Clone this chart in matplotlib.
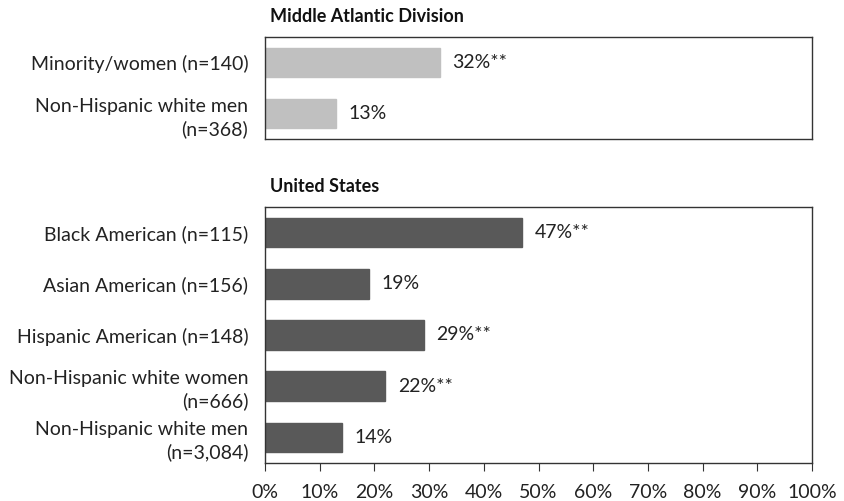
import matplotlib
matplotlib.use("Agg")
import matplotlib.pyplot as plt

plt.rcParams['font.family'] = ['Lato', 'DejaVu Sans']

mad_labels = ["Minority/women (n=140)", "Non-Hispanic white men\n(n=368)"]
mad_values = [32, 13]
mad_text = ["32%**", "13%"]

us_labels = ["Black American (n=115)", "Asian American (n=156)", "Hispanic American (n=148)",
             "Non-Hispanic white women\n(n=666)", "Non-Hispanic white men\n(n=3,084)"]
us_values = [47, 19, 29, 22, 14]
us_text = ["47%**", "19%", "29%**", "22%**", "14%"]

xticks = [0, 10, 20, 30, 40, 50, 60, 70, 80, 90, 100]
xticklabels = ["0%", "10%", "20%", "30%", "40%", "50%", "60%", "70%", "80%", "90%", "100%"]

W, H = 844, 501
fig = plt.figure(figsize=(W/100, H/100), dpi=100)

def ax_rect(x0, y0, x1, y1):
    return [x0/W, 1 - y1/H, (x1-x0)/W, (y1-y0)/H]

ax1 = fig.add_axes(ax_rect(265, 37, 812, 139))
ax2 = fig.add_axes(ax_rect(265, 207, 812, 463))

fs = 14
for ax, labels, vals, texts, col in [
    (ax1, mad_labels, mad_values, mad_text, "#C0C0C0"),
    (ax2, us_labels, us_values, us_text, "#595959"),
]:
    y = list(range(len(vals)))
    ax.barh(y, vals, height=0.58, color=col, edgecolor=col)
    ax.set_xlim(0, 100)
    ax.set_ylim(len(vals) - 0.5, -0.5)
    ax.set_yticks(y)
    ax.set_yticklabels(labels, fontsize=fs, color="#222222", linespacing=1.35)
    ax.tick_params(axis='y', length=0, pad=12)
    for yi, v, t in zip(y, vals, texts):
        ax.annotate(t, (v, yi), xytext=(9, 0), textcoords="offset points",
                    va="center", ha="left", fontsize=fs, color="#222222")
    for s in ax.spines.values():
        s.set_color("#333333")
        s.set_linewidth(1.0)

ax1.set_xticks([])
ax2.set_xticks(xticks)
ax2.set_xticklabels(xticklabels, fontsize=fs, color="#222222")
ax2.tick_params(axis='x', length=6, direction='out', color="#333333", pad=9)

fig.text(270/W, 1 - 17/H, "Middle Atlantic Division", fontsize=13, fontweight="bold",
         ha="left", va="center", color="#111111")
fig.text(270/W, 1 - 186/H, "United States", fontsize=13, fontweight="bold",
         ha="left", va="center", color="#111111")

fig.savefig("out.png", dpi=100)
